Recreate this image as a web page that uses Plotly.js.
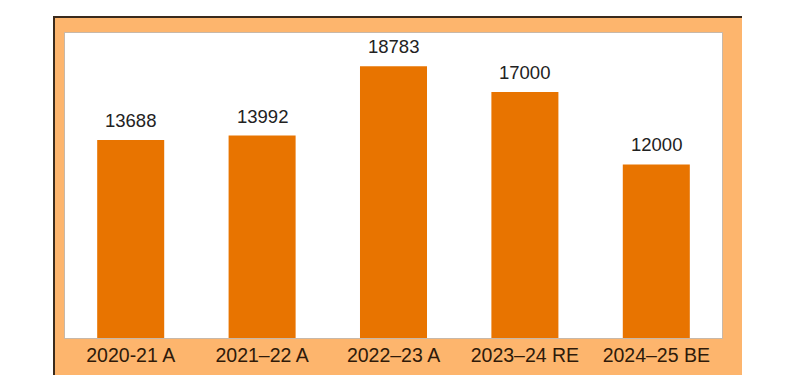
<!DOCTYPE html>
<html>
<head>
<meta charset="utf-8">
<script src="https://cdn.plot.ly/plotly-3.0.1.min.js"></script>
<style>
html,body{margin:0;padding:0;background:#ffffff;width:800px;height:392px;overflow:hidden;}
#frame{position:absolute;left:53px;top:16px;border-top:2px solid #3a2a1c;border-left:2px solid #3a2a1c;width:687px;height:357px;}
#chart{width:687px;height:357px;}
</style>
</head>
<body>
<div id="frame"><div id="chart"></div></div>
<script>
const categories = ["2020-21 A", "2021\u201322 A", "2022\u201323 A", "2023\u201324 RE", "2024\u201325 BE"];
const values = [13688, 13992, 18783, 17000, 12000];
const valueLabels = ["13688", "13992", "18783", "17000", "12000"];

const trace = {
  type: "bar",
  x: categories,
  y: values,
  marker: {color: "#e87400"},
  hoverinfo: "none"
};

const annotations = categories.map((c, i) => ({
  x: c, y: values[i], xref: "x", yref: "y",
  text: valueLabels[i], showarrow: false,
  yanchor: "bottom", yshift: 7,
  font: {family: "Liberation Sans, Arial, sans-serif", size: 18.5, color: "#222222"}
}));

const layout = {
  width: 687, height: 357,
  margin: {l: 10, r: 20, t: 15, b: 37, pad: 0},
  paper_bgcolor: "#fdb56d",
  plot_bgcolor: "#ffffff",
  bargap: 0.49,
  showlegend: false,
  xaxis: {
    type: "category",
    showgrid: false, zeroline: false,
    showline: true, mirror: true, linecolor: "#c8b8a8", linewidth: 1,
    ticks: "", tickfont: {family: "Liberation Sans, Arial, sans-serif", size: 19.5, color: "#2e1a0a"}
  },
  yaxis: {
    range: [0, 21080],
    showgrid: false, zeroline: false, showticklabels: false,
    showline: true, mirror: true, linecolor: "#c8b8a8", linewidth: 1,
    ticks: ""
  },
  annotations: annotations
};

Plotly.newPlot("chart", [trace], layout, {staticPlot: true, displayModeBar: false});
</script>
</body>
</html>
